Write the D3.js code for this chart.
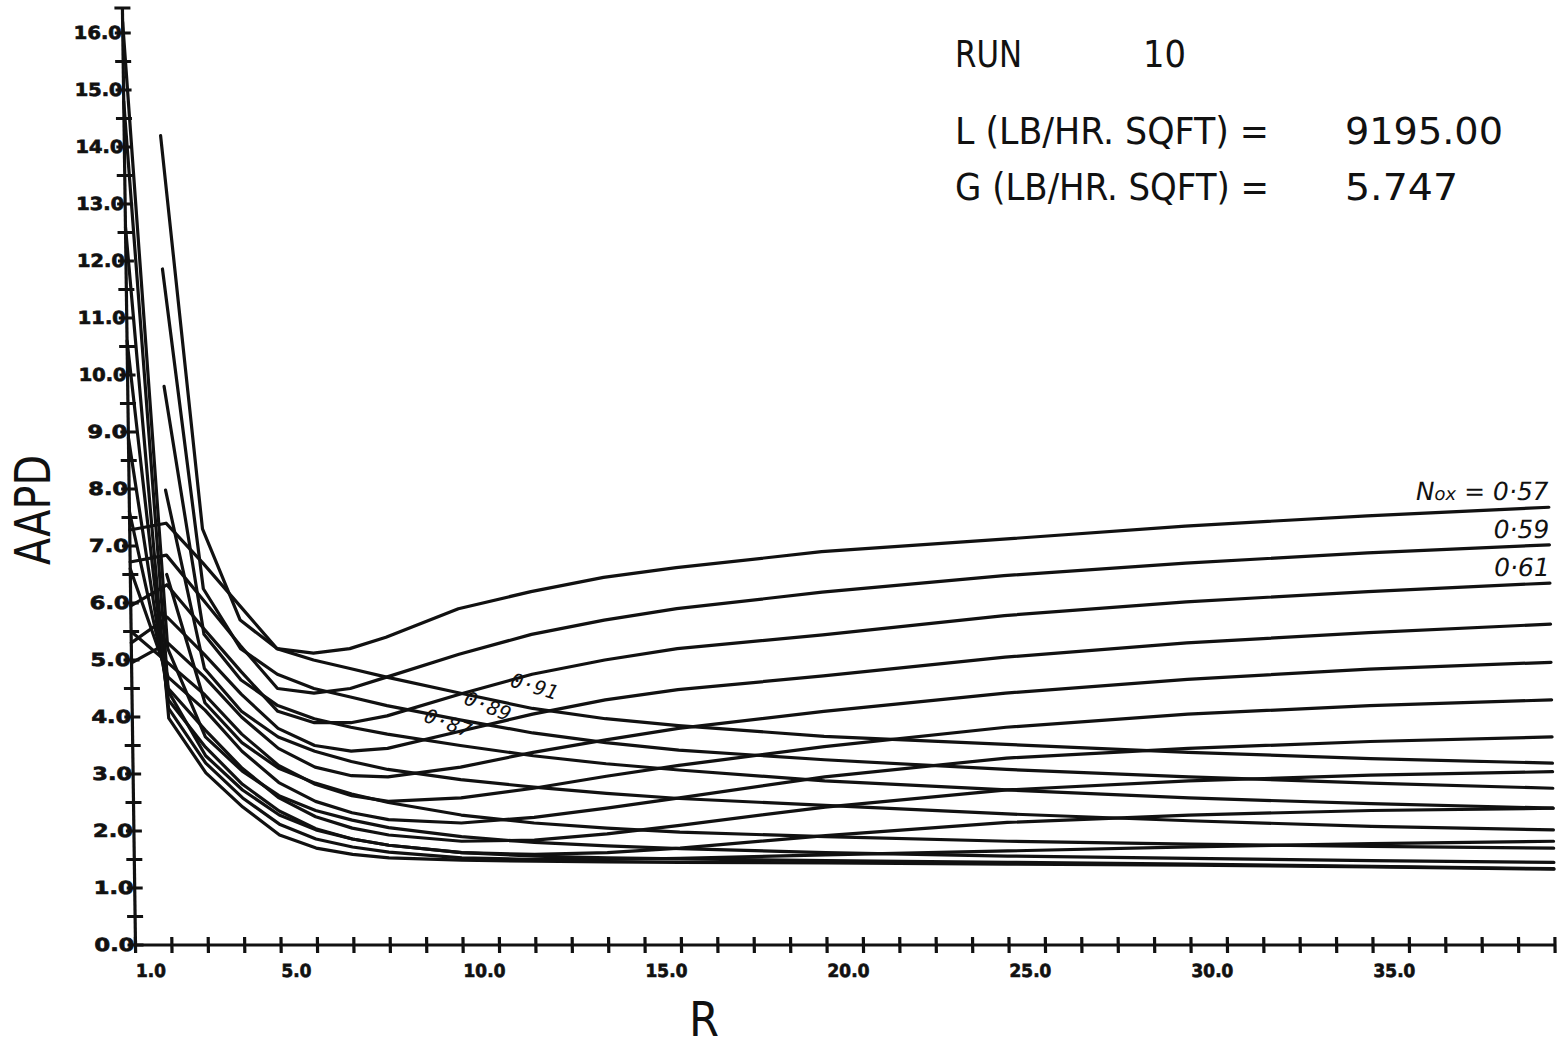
<!DOCTYPE html>
<html><head><meta charset="utf-8">
<script src="https://cdn.jsdelivr.net/npm/d3@7"></script>
<style>body{margin:0;background:#fff}svg{display:block}</style>
</head><body><svg id="c" width="1568" height="1046"></svg>
<script>
// ---------- data ----------
const rValues = [1,2,3,4,5,6,7,8,10,12,14,16,20,25,30,35,40];
const noxLevels = ["0.57","0.59","0.61","0.63","0.65","0.67","0.69","0.71","0.73","0.75","0.77","0.79","0.81","0.83","0.85","0.87","0.89","0.91"];
const aapd057 = [7.28,7.40,6.70,5.95,5.20,5.12,5.20,5.40,5.90,6.20,6.45,6.62,6.90,7.12,7.35,7.53,7.68];
const aapd059 = [6.72,6.84,6.05,5.25,4.50,4.42,4.50,4.70,5.10,5.45,5.70,5.90,6.19,6.48,6.70,6.88,7.02];
const aapd061 = [5.95,6.32,5.55,4.80,4.10,3.90,3.90,4.02,4.40,4.75,5.00,5.20,5.44,5.78,6.02,6.20,6.35];
const aapd063 = [5.30,5.75,5.10,4.40,3.80,3.50,3.40,3.45,3.75,4.05,4.30,4.48,4.72,5.05,5.30,5.48,5.63];
const aapd065 = [4.95,5.30,4.70,4.00,3.45,3.12,2.97,2.95,3.12,3.38,3.60,3.80,4.10,4.42,4.66,4.84,4.96];
const aapd067 = [5.50,4.95,4.39,3.70,3.15,2.82,2.62,2.52,2.58,2.75,2.96,3.15,3.48,3.82,4.05,4.20,4.30];
const aapd069 = [6.60,4.70,4.12,3.40,2.85,2.52,2.32,2.20,2.14,2.24,2.40,2.58,2.95,3.28,3.45,3.57,3.65];
const aapd071 = [7.60,4.50,3.77,3.10,2.58,2.25,2.05,1.93,1.82,1.84,1.95,2.10,2.42,2.72,2.88,2.98,3.04];
const aapd073 = [8.90,4.30,3.47,2.82,2.35,2.04,1.86,1.75,1.62,1.59,1.62,1.70,1.92,2.15,2.28,2.36,2.40];
const aapd075 = [10.6,4.15,3.19,2.58,2.12,1.86,1.72,1.63,1.53,1.50,1.50,1.52,1.58,1.65,1.72,1.78,1.82];
const aapd077 = [12.6,3.98,3.02,2.42,1.93,1.70,1.59,1.53,1.49,1.47,1.46,1.45,1.44,1.42,1.40,1.37,1.33];
const aapd079 = [14.8,4.45,3.32,2.72,2.28,2.02,1.86,1.75,1.62,1.56,1.53,1.51,1.48,1.45,1.42,1.38,1.34];
const aapd081 = [16.2,5.20,3.65,3.05,2.62,2.36,2.19,2.06,1.90,1.80,1.74,1.69,1.62,1.56,1.52,1.48,1.45];
const aapd083 = [null,6.50,4.25,3.55,3.10,2.84,2.65,2.50,2.28,2.14,2.05,1.98,1.90,1.82,1.77,1.73,1.70];
const aapd085 = [null,7.98,4.85,4.10,3.65,3.40,3.22,3.08,2.90,2.77,2.66,2.57,2.45,2.30,2.18,2.08,2.02];
const aapd087 = [null,9.80,5.45,4.65,4.20,3.97,3.82,3.70,3.50,3.32,3.18,3.07,2.88,2.72,2.58,2.48,2.40];
const aapd089 = [null,11.86,6.25,5.20,4.75,4.50,4.35,4.20,3.95,3.72,3.55,3.42,3.25,3.08,2.95,2.84,2.75];
const aapd091 = [null,14.20,7.30,5.70,5.20,5.00,4.85,4.70,4.42,4.15,3.97,3.85,3.66,3.52,3.38,3.27,3.19];
const seriesValues = [aapd057,aapd059,aapd061,aapd063,aapd065,aapd067,aapd069,aapd071,aapd073,
  aapd075,aapd077,aapd079,aapd081,aapd083,aapd085,aapd087,aapd089,aapd091];

const xTickValues = d3.range(1, 41, 1);
const xLabelValues = [1,5,10,15,20,25,30,35];
const yTickValues = d3.range(0, 16.01, 0.5);
const yLabelValues = d3.range(0, 17, 1);

// curve labels: right-hand (R, AAPD) and in-plot ones
const rightLabels = [{t:"0.57", r:40, v:7.68, nox:true},{t:"0.59", r:40, v:7.02},{t:"0.61", r:40, v:6.35}];
const innerLabels = [{t:"0.91", r:12.0, v:4.42, a:17},{t:"0.89", r:10.7, v:4.08, a:22},{t:"0.87", r:9.6, v:3.78, a:20}];

// ---------- drawing ----------
const svg = d3.select("#c");
const x = d3.scaleLinear().domain([1, 40]).range([135.5, 1555]);
const y = d3.scaleLinear().domain([0, 16]).range([945, 33]);
const yTop = 8;

// slight skew of the scanned plot frame
const g = svg.append("g").attr("transform", "translate(0,945) skewX(0.8) translate(0,-945)");

const ink = "#111";
g.append("line").attr("x1", x(1)).attr("x2", x(1)).attr("y1", y(0)).attr("y2", yTop)
  .attr("stroke", ink).attr("stroke-width", 3.2);
g.append("line").attr("x1", x(1) - 8).attr("x2", x(1) + 8).attr("y1", yTop).attr("y2", yTop)
  .attr("stroke", ink).attr("stroke-width", 3.2);
g.append("line").attr("x1", x(1)).attr("x2", x(40)).attr("y1", y(0)).attr("y2", y(0))
  .attr("stroke", ink).attr("stroke-width", 3.2);

g.selectAll(".xt").data(xTickValues).join("line")
  .attr("x1", d => x(d)).attr("x2", d => x(d)).attr("y1", y(0) - 8).attr("y2", y(0) + 8)
  .attr("stroke", ink).attr("stroke-width", 3.2);
g.selectAll(".yt").data(yTickValues).join("line")
  .attr("x1", x(1) - 8).attr("x2", x(1) + 8).attr("y1", d => y(d)).attr("y2", d => y(d))
  .attr("stroke", ink).attr("stroke-width", 3.2);

const fmt = d3.format(".1f");
const tickFont = "DejaVu Sans, sans-serif";
g.selectAll(".xl").data(xLabelValues).join("text")
  .attr("x", d => x(d)).attr("y", 977)
  .attr("font-family", tickFont).attr("font-weight", "bold")
  .attr("font-size", 18).attr("fill", ink).attr("stroke", ink).attr("stroke-width", 0.7)
  .attr("textLength", d => d < 10 ? 30 : 42).attr("lengthAdjust", "spacingAndGlyphs")
  .text(d => fmt(d));
g.selectAll(".yl").data(yLabelValues).join("text")
  .attr("x", x(1) - 1).attr("y", d => y(d)).attr("dy", "0.36em")
  .attr("text-anchor", "end")
  .attr("font-family", tickFont).attr("font-weight", "bold")
  .attr("font-size", 18).attr("fill", ink).attr("stroke", ink).attr("stroke-width", 0.7)
  .attr("textLength", d => d < 10 ? 40 : 48).attr("lengthAdjust", "spacingAndGlyphs")
  .text(d => fmt(d));

// curves
const line = d3.line()
  .defined(d => d[1] !== null)
  .x(d => x(d[0])).y(d => y(d[1]))
  .curve(d3.curveLinear);
g.selectAll(".curve").data(seriesValues).join("path")
  .attr("d", vals => line(rValues.map((r, i) => [r, vals[i]])))
  .attr("fill", "none").attr("stroke", ink).attr("stroke-width", 3.2)
  .attr("stroke-linejoin", "round").attr("stroke-linecap", "round");

// right labels (handwritten style)
const hand = "DejaVu Sans, sans-serif";
rightLabels.forEach(l => {
  const t = g.append("text").attr("x", x(l.r)).attr("y", y(l.v) - 7)
    .attr("text-anchor", "end").attr("font-family", hand).attr("font-style", "italic")
    .attr("font-size", 25).attr("font-weight", 300).attr("fill", ink);
  if (l.nox) {
    t.append("tspan").text("N");
    t.append("tspan").attr("font-size", 18).text("ox");
    t.append("tspan").text(" = ");
  }
  t.append("tspan").text(l.t.replace(".", "·"));
});
innerLabels.forEach(l => {
  g.append("text").attr("transform", `translate(${x(l.r)},${y(l.v)}) rotate(${l.a})`)
    .attr("text-anchor", "middle").attr("font-family", "DejaVu Sans Mono, monospace")
    .attr("font-style", "italic").attr("font-size", 20).attr("fill", ink)
    .text(l.t.replace(".", "·"));
});

// axis titles
const plotFont = "DejaVu Sans Condensed, DejaVu Sans, sans-serif";
svg.append("text").attr("x", 704).attr("y", 1036).attr("text-anchor", "middle")
  .attr("font-family", plotFont).attr("font-size", 48).attr("font-weight", 300).attr("fill", ink)
  .attr("textLength", 30).attr("lengthAdjust", "spacingAndGlyphs").text("R");
svg.append("text").attr("transform", "translate(50,510) rotate(-90)").attr("text-anchor", "middle")
  .attr("font-family", plotFont).attr("font-size", 50).attr("font-weight", 300).attr("fill", ink)
  .attr("textLength", 110).attr("lengthAdjust", "spacingAndGlyphs").text("AAPD");

// run annotation
const ann = [
  {t:"RUN", x:955, y:67, w:67},
  {t:"10", x:1143, y:67, w:43},
  {t:"L (LB/HR. SQFT) =", x:955, y:144, w:314},
  {t:"9195.00", x:1345, y:144, w:158},
  {t:"G (LB/HR. SQFT) =", x:955, y:200, w:314},
  {t:"5.747", x:1345, y:200, w:113}
];
svg.selectAll(".ann").data(ann).join("text")
  .attr("x", d => d.x).attr("y", d => d.y)
  .attr("font-family", plotFont).attr("font-size", 37).attr("fill", ink)
  .attr("textLength", d => d.w).attr("lengthAdjust", "spacingAndGlyphs")
  .text(d => d.t);
</script></body></html>
